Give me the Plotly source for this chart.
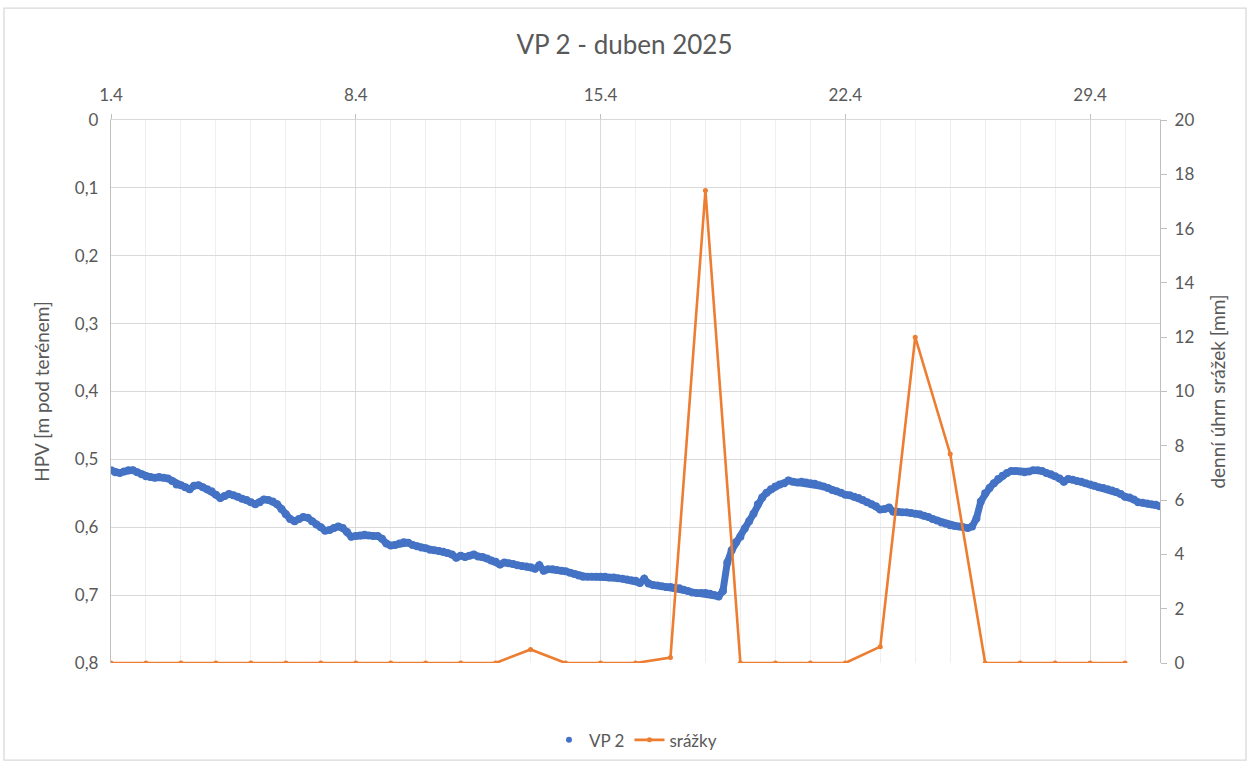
import plotly.graph_objects as go
import pandas as pd

# VP 2 groundwater level [m below ground], 3-hourly readings from 1.4.2025 0:00
vp2 = [
    0.516, 0.519, 0.520, 0.518, 0.516, 0.516, 0.519, 0.522,  # 1.4
    0.525, 0.526, 0.527, 0.526, 0.527, 0.528, 0.532, 0.537,  # 2.4
    0.538, 0.541, 0.544, 0.539, 0.538, 0.541, 0.544, 0.547,  # 3.4
    0.552, 0.557, 0.554, 0.551, 0.553, 0.555, 0.558, 0.560,  # 4.4
    0.563, 0.566, 0.563, 0.559, 0.560, 0.562, 0.566, 0.573,  # 5.4
    0.581, 0.588, 0.591, 0.588, 0.585, 0.586, 0.591, 0.596,  # 6.4
    0.600, 0.605, 0.604, 0.601, 0.599, 0.601, 0.607, 0.614,  # 7.4
    0.613, 0.612, 0.611, 0.612, 0.613, 0.613, 0.617, 0.624,  # 8.4
    0.627, 0.626, 0.624, 0.622, 0.623, 0.626, 0.628, 0.630,  # 9.4
    0.631, 0.633, 0.634, 0.635, 0.636, 0.638, 0.640, 0.645,  # 10.4
    0.642, 0.644, 0.642, 0.640, 0.643, 0.644, 0.646, 0.649,  # 11.4
    0.651, 0.655, 0.652, 0.653, 0.654, 0.656, 0.657, 0.658,  # 12.4
    0.659, 0.661, 0.656, 0.664, 0.662, 0.662, 0.663, 0.664,  # 13.4
    0.665, 0.667, 0.669, 0.671, 0.673, 0.673, 0.673, 0.673,  # 14.4
    0.673, 0.673, 0.674, 0.674, 0.675, 0.676, 0.677, 0.678,  # 15.4
    0.679, 0.682, 0.676, 0.683, 0.685, 0.686, 0.687, 0.688,  # 16.4
    0.688, 0.689, 0.690, 0.692, 0.694, 0.696, 0.697, 0.697,  # 17.4
    0.697, 0.698, 0.700, 0.702, 0.694, 0.652, 0.634, 0.622,  # 18.4
    0.614, 0.602, 0.591, 0.580, 0.566, 0.556, 0.549, 0.544,  # 19.4
    0.540, 0.537, 0.535, 0.531, 0.533, 0.534, 0.533, 0.534,  # 20.4
    0.535, 0.536, 0.538, 0.540, 0.542, 0.545, 0.547, 0.549,  # 21.4
    0.552, 0.553, 0.555, 0.557, 0.560, 0.563, 0.566, 0.569,  # 22.4
    0.574, 0.573, 0.571, 0.577, 0.577, 0.578, 0.578, 0.579,  # 23.4
    0.580, 0.581, 0.583, 0.585, 0.588, 0.590, 0.593, 0.595,  # 24.4
    0.597, 0.598, 0.599, 0.600, 0.601, 0.599, 0.587, 0.562,  # 25.4
    0.550, 0.542, 0.535, 0.529, 0.524, 0.520, 0.517, 0.517,  # 26.4
    0.518, 0.519, 0.518, 0.516, 0.516, 0.517, 0.520, 0.522,  # 27.4
    0.525, 0.528, 0.533, 0.529, 0.530, 0.532, 0.533, 0.535,  # 28.4
    0.537, 0.539, 0.541, 0.542, 0.544, 0.546, 0.548, 0.551,  # 29.4
    0.555, 0.556, 0.559, 0.563, 0.564, 0.565, 0.566, 0.567,  # 30.4
    0.569,                                                   # 1.5
]

# daily precipitation [mm]
srazky = [0, 0, 0, 0, 0, 0, 0, 0, 0, 0, 0, 0, 0.5, 0, 0,
          0, 0.2, 17.4, 0, 0, 0, 0, 0.6, 12.0, 7.7, 0, 0, 0, 0, 0]

x_tick_dates = ["2025-04-01", "2025-04-08", "2025-04-15", "2025-04-22", "2025-04-29"]
x_tick_text = ["1.4", "8.4", "15.4", "22.4", "29.4"]
y_tick_vals = [0, 0.1, 0.2, 0.3, 0.4, 0.5, 0.6, 0.7, 0.8]
y_tick_text = ["0", "0,1", "0,2", "0,3", "0,4", "0,5", "0,6", "0,7", "0,8"]

t_vp2 = pd.date_range("2025-04-01", periods=len(vp2), freq="3h")
t_srazky = pd.date_range("2025-04-01", periods=len(srazky), freq="D")

FONT = "Lato, 'Open Sans', sans-serif"
GRAY = "#595959"
BLUE = "#4472C4"
ORANGE = "#ED7D31"

fig = go.Figure()

# dense logger readings look like a thick dotted band in the original
fig.add_trace(go.Scatter(
    x=t_vp2, y=vp2, mode="lines", showlegend=False, hoverinfo="skip",
    line=dict(color=BLUE, width=7),
))
fig.add_trace(go.Scatter(
    x=t_vp2, y=vp2, mode="markers", name="VP 2", showlegend=False,
    marker=dict(size=8, color=BLUE, line=dict(width=0)),
))
# legend-only entry with a small dot like Excel
fig.add_trace(go.Scatter(
    x=[None], y=[None], mode="markers", name="VP 2",
    marker=dict(size=6, color=BLUE),
))

fig.add_trace(go.Scatter(
    x=t_srazky, y=srazky, mode="lines+markers", name="srážky",
    line=dict(color=ORANGE, width=2.6),
    marker=dict(size=5, color=ORANGE),
    yaxis="y2",
))

fig.update_layout(
    width=1249, height=764,
    margin=dict(l=111, r=89, t=120, b=101),
    paper_bgcolor="white", plot_bgcolor="white",
    font=dict(family=FONT, color=GRAY, size=17),
    title=dict(text="VP 2 - duben 2025", x=0.5, xanchor="center",
               y=0.941, yanchor="middle", font=dict(size=26, color=GRAY)),
    showlegend=True,
    legend=dict(orientation="h", x=0.5, xanchor="center",
                yref="container", y=0.031, yanchor="middle",
                font=dict(size=17, color=GRAY)),
    xaxis=dict(
        side="top", type="date", automargin=False,
        range=["2025-04-01", "2025-05-01"],
        tickvals=x_tick_dates, ticktext=x_tick_text,
        ticks="outside", ticklen=5, tickcolor="#bfbfbf",
        ticklabelstandoff=6,
        showgrid=True, gridcolor="#d9d9d9", gridwidth=1.3,
        minor=dict(dtick=86400000, tick0="2025-04-01", showgrid=True,
                   gridcolor="#efefef", gridwidth=1.3),
        showline=True, linecolor="#d9d9d9", zeroline=False,
    ),
    yaxis=dict(
        range=[0.8, 0], tickvals=y_tick_vals, ticktext=y_tick_text,
        automargin=False,
        showgrid=True, gridcolor="#d9d9d9", gridwidth=1.3,
        showline=True, linecolor="#bfbfbf", linewidth=1.3, zeroline=False,
        ticklabelstandoff=8,
        title=dict(text="HPV [m pod terénem]", font=dict(size=19, color=GRAY),
                   standoff=20),
    ),
    yaxis2=dict(
        overlaying="y", side="right", range=[0, 20], dtick=2,
        automargin=False,
        showgrid=False, zeroline=False,
        showline=True, linecolor="#bfbfbf", linewidth=1.3,
        ticks="outside", ticklen=6, tickcolor="#bfbfbf",
        ticklabelstandoff=4,
        title=dict(text="denní úhrn srážek [mm]", font=dict(size=19, color=GRAY),
                   standoff=18),
    ),
    shapes=[dict(type="rect", xref="paper", yref="paper",
                 x0=-0.102, x1=1.082, y0=-0.179, y1=1.206,
                 line=dict(color="#d9d9d9", width=1.3))],
)

fig.write_html("out.html", config={"displayModeBar": False},
               post_script="document.body.style.margin='0px';")
